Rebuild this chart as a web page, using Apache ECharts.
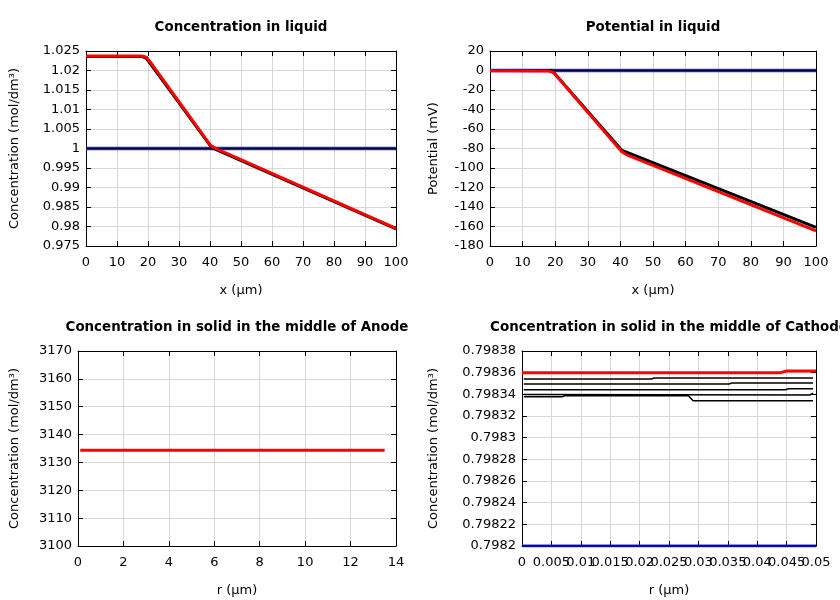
<!DOCTYPE html>
<html>
<head>
<meta charset="utf-8">
<script src="https://cdn.jsdelivr.net/npm/echarts@6/dist/echarts.min.js"></script>
<style>html,body{margin:0;padding:0;background:#fff}#c{width:840px;height:600px}</style>
</head>
<body>
<div id="c"></div>
<script>
// ---- Data: Concentration in liquid (x in µm) ----
const liqX_init = [0, 100];
const liqC_init = [1, 1];
const liqX_mid = [0, 18, 19.5, 40.5, 42, 100];
const liqC_mid = [1.0236, 1.0236, 1.0231, 1.0003, 0.9997, 0.9794];
const liqX_final = [0, 18, 19.5, 21, 40, 41, 42.5, 100];
const liqC_final = [1.0237, 1.0237, 1.0234, 1.0219, 1.0010, 1.0004, 0.9998, 0.9795];

// ---- Data: Potential in liquid (mV) ----
const potX_init = [0, 100];
const potV_init = [0, 0];
const potX_mid = [0, 19, 19.5, 40.5, 41, 100];
const potV_mid = [0, 0, -1.5, -82, -82.5, -161];
const potX_final = [0, 18, 19.5, 40.5, 42, 100];
const potV_final = [-0.3, -0.5, -2, -83.5, -86.5, -164.5];

// ---- Data: Concentration in solid, Anode (r in µm) ----
const anodeR = [0.1, 13.5];
const anodeC = [3134.4, 3134.4];

// ---- Data: Concentration in solid, Cathode (r in µm) ----
const cathR_init = [0, 0.05];
const cathC_init = [0.7982, 0.7982];
const cathR_1 = [0.0003, 0.022, 0.0225, 0.0495];
const cathC_1 = [0.7983542, 0.7983542, 0.7983551, 0.7983551];
const cathR_2 = [0.0003, 0.0352, 0.0357, 0.0495];
const cathC_2 = [0.7983495, 0.7983495, 0.7983505, 0.7983505];
const cathR_3 = [0.0003, 0.0448, 0.0453, 0.0495];
const cathC_3 = [0.7983443, 0.7983443, 0.7983452, 0.7983452];
const cathR_4 = [0.0003, 0.0006, 0.049, 0.0495];
const cathC_4 = [0.7983398, 0.7983394, 0.7983394, 0.7983412];
const cathR_5 = [0.0003, 0.0068, 0.0073, 0.0283, 0.0291, 0.0495];
const cathC_5 = [0.7983378, 0.7983378, 0.7983387, 0.7983387, 0.7983341, 0.7983341];
const cathR_final = [0, 0.044, 0.045, 0.05];
const cathC_final = [0.79836, 0.79836, 0.7983615, 0.7983615];

// ---- Tick labels for the cathode r axis (all shown, overlapping as in the original) ----
const cathRTickLabels = ['0', '0.005', '0.01', '0.015', '0.02', '0.025', '0.03', '0.035', '0.04', '0.045', '0.05'];

// ---- Axis ranges ----
const axes = [
  {xmin: 0, xmax: 100, xint: 10, ymin: 0.975, ymax: 1.025, yint: 0.005},
  {xmin: 0, xmax: 100, xint: 10, ymin: -180, ymax: 20, yint: 20},
  {xmin: 0, xmax: 14, xint: 2, ymin: 3100, ymax: 3170, yint: 10},
  {xmin: 0, xmax: 0.05, xint: 0.005, ymin: 0.7982, ymax: 0.79838, yint: 0.00002}
];
const titles = ['Concentration in liquid', 'Potential in liquid',
  'Concentration in solid in the middle of Anode', 'Concentration in solid in the middle of Cathode'];
const xNames = ['x (µm)', 'x (µm)', 'r (µm)', 'r (µm)'];
const yNames = ['Concentration (mol/dm³)', 'Potential (mV)', 'Concentration (mol/dm³)', 'Concentration (mol/dm³)'];

const FONT = 'DejaVu Sans';
const grids = [
  {left: 86, top: 51, width: 310, height: 195},
  {left: 490, top: 51, width: 326, height: 195},
  {left: 78, top: 351, width: 318, height: 195},
  {left: 522, top: 351, width: 294, height: 195}
];
const yGaps = [65, 50, 57, 82];
const fmt = [v => String(+v.toFixed(0)), v => String(+v.toFixed(0)), v => String(+v.toFixed(0)), v => String(+v.toFixed(3))];
const yfmt = [v => String(+v.toFixed(3)), v => String(+v.toFixed(0)), v => String(+v.toFixed(0)), v => String(+v.toFixed(5))];

const xAxis = [], yAxis = [];
grids.forEach((g, i) => {
  const a = axes[i];
  const common = {
    axisLine: {show: true, onZero: false, lineStyle: {color: '#000', width: 1}},
    axisTick: {show: true, inside: true, length: 5, lineStyle: {color: '#000'}},
  };
  xAxis.push(Object.assign({}, common, {
    type: 'value', gridIndex: i, min: a.xmin, max: a.xmax, interval: a.xint, position: 'bottom',
    name: xNames[i], nameLocation: 'middle', nameGap: 38,
    nameTextStyle: {fontFamily: FONT, fontSize: 13, color: '#000'},
    axisLabel: {show: i !== 3, fontFamily: FONT, fontSize: 13, color: '#000', margin: 10, formatter: fmt[i],
      showMinLabel: true, showMaxLabel: true, hideOverlap: false},
    splitLine: {show: true, lineStyle: {color: '#d8d8d8', width: 1}}
  }));
  xAxis.push(Object.assign({}, common, {
    type: 'value', gridIndex: i, min: a.xmin, max: a.xmax, interval: a.xint, position: 'top',
    axisLabel: {show: false}, splitLine: {show: false}
  }));
  yAxis.push(Object.assign({}, common, {
    type: 'value', gridIndex: i, min: a.ymin, max: a.ymax, interval: a.yint, position: 'left',
    name: yNames[i], nameLocation: 'middle', nameGap: yGaps[i],
    nameTextStyle: {fontFamily: FONT, fontSize: 13, color: '#000'},
    axisLabel: {fontFamily: FONT, fontSize: 13, color: '#000', margin: 6, formatter: yfmt[i],
      showMinLabel: true, showMaxLabel: true, hideOverlap: false},
    splitLine: {show: true, lineStyle: {color: '#d8d8d8', width: 1}}
  }));
  yAxis.push(Object.assign({}, common, {
    type: 'value', gridIndex: i, min: a.ymin, max: a.ymax, interval: a.yint, position: 'right',
    axisLabel: {show: false}, splitLine: {show: false}
  }));
});
// label-only category axis so every cathode r label is shown
xAxis.push({
  type: 'category', gridIndex: 3, position: 'bottom', data: cathRTickLabels, boundaryGap: false,
  axisLine: {show: false, onZero: false}, axisTick: {show: false}, splitLine: {show: false},
  axisLabel: {interval: 0, fontFamily: FONT, fontSize: 13, color: '#000', margin: 10, hideOverlap: false}
});

function zip(xs, ys) { return xs.map((x, k) => [x, ys[k]]); }
function line(i, xs, ys, color, width) {
  return {
    type: 'line', xAxisIndex: 2 * i, yAxisIndex: 2 * i, data: zip(xs, ys),
    showSymbol: false, symbol: 'none', animation: false, silent: true,
    lineStyle: {color: color, width: width}
  };
}
const BLUE = '#2a2aff', RED = '#ff0000', BLACK = '#000000';
const series = [
  line(0, liqX_init, liqC_init, BLUE, 3.5),
  line(0, liqX_init, liqC_init, '#000040', 1.5),
  line(0, liqX_mid, liqC_mid, BLACK, 3),
  line(0, liqX_final, liqC_final, RED, 3),
  line(1, potX_init, potV_init, BLUE, 3.5),
  line(1, potX_init, potV_init, '#000040', 1.5),
  line(1, potX_mid, potV_mid, BLACK, 3),
  line(1, potX_final, potV_final, RED, 3),
  line(2, anodeR, anodeC, RED, 3),
  line(3, cathR_init, cathC_init, BLUE, 3),
  line(3, cathR_init, cathC_init, '#000040', 1.5),
  line(3, cathR_1, cathC_1, BLACK, 1.5),
  line(3, cathR_2, cathC_2, BLACK, 1.5),
  line(3, cathR_3, cathC_3, BLACK, 1.5),
  line(3, cathR_4, cathC_4, BLACK, 1.5),
  line(3, cathR_5, cathC_5, BLACK, 1.5),
  line(3, cathR_final, cathC_final, RED, 3)
];

const graphic = grids.map((g, i) => ({
  type: 'text',
  x: g.left + g.width / 2,
  y: g.top - 23,
  style: {text: titles[i], fill: '#000', font: 'bold 13.4px "DejaVu Sans"', textAlign: 'center', textVerticalAlign: 'middle'}
}));

const chart = echarts.init(document.getElementById('c'), null, {renderer: 'canvas'});
chart.setOption({
  backgroundColor: '#fff',
  animation: false,
  grid: grids.map(g => Object.assign({containLabel: false}, g)),
  xAxis: xAxis,
  yAxis: yAxis,
  series: series,
  graphic: graphic
});
</script>
</body>
</html>
